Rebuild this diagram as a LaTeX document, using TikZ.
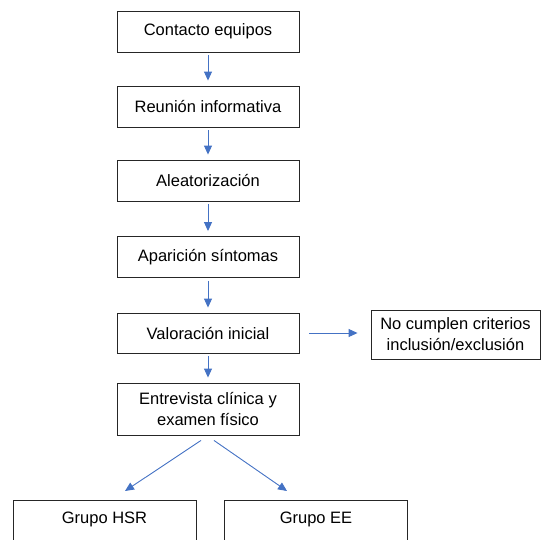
\documentclass[tikz,border=0pt]{standalone}
\usepackage{fontspec}
\setmainfont{Liberation Sans}
\usepackage{tikz}
\usetikzlibrary{arrows.meta, positioning, calc}
\definecolor{flowblue}{HTML}{4472C4}

\begin{document}
\begin{tikzpicture}[
    x=1pt, y=-1pt,
    box/.style={rectangle, draw=black!85, line width=0.9pt, fill=white, minimum width=182pt, minimum height=41pt, align=center, inner sep=2pt, font=\fontsize{16.5}{21}\selectfont},
    sidebox/.style={box, minimum width=169pt, minimum height=49pt},
    groupbox/.style={box, anchor=north, minimum width=183pt, text height=21pt, text depth=25pt},
    arrow/.style={-{Triangle[width=8pt,length=9pt]}, line width=0.9pt, flowblue},
    vstep/.style={arrow, shorten <=3pt, shorten >=5pt}
]
\useasboundingbox (0,0) rectangle (541,539);

\node[box] (contacto) at (208,31.5) {Contacto equipos};
\node[box] (reunion) at (208,106.5) {Reunión informativa};
\node[box] (aleatorizacion) at (208,180.5) {Aleatorización};
\node[box] (aparicion) at (208,257) {Aparición síntomas};
\node[box, minimum height=40pt] (valoracion) at (208,333) {Valoración inicial};
\node[sidebox] (nocumplen) at (455.5,334.5) {No cumplen criterios\\inclusión/exclusión};
\node[box, minimum height=52pt] (entrevista) at (208,409) {Entrevista clínica y\\examen físico};
\node[groupbox] (hsr) at (104.5,500) {Grupo HSR};
\node[groupbox] (ee) at (316,500) {Grupo EE};

\draw[vstep] (contacto) -- (reunion);
\draw[vstep] (reunion) -- (aleatorizacion);
\draw[vstep] (aleatorizacion) -- (aparicion);
\draw[vstep] (aparicion) -- (valoracion);
\draw[vstep] (valoracion) -- (entrevista);
\draw[arrow, shorten <=10pt, shorten >=13pt] (valoracion.east) -- (valoracion.east -| nocumplen.west);
\draw[arrow] ([xshift=-7pt,yshift=-5pt]entrevista.south) -- ([xshift=20.5pt,yshift=9pt]hsr.north);
\draw[arrow] ([xshift=6pt,yshift=-5pt]entrevista.south) -- ([xshift=-29pt,yshift=9pt]ee.north);

\end{tikzpicture}
\end{document}
